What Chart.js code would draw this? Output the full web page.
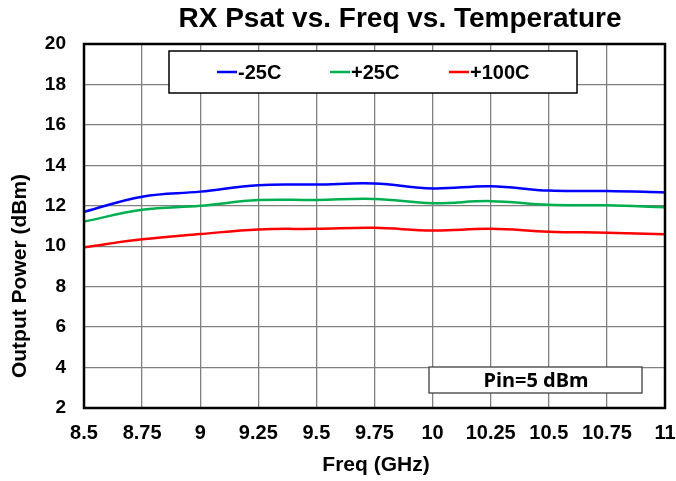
<!DOCTYPE html>
<html>
<head>
<meta charset="utf-8">
<script src="https://cdn.jsdelivr.net/npm/chart.js@4"></script>
<style>
  body { margin: 0; background: #fff; }
  #wrap { width: 676px; height: 481px; }
</style>
</head>
<body>
<div id="wrap"><canvas id="chart" width="676" height="481"></canvas></div>
<script>
// frequency points (GHz)
const freqs = [8.5, 8.75, 9, 9.25, 9.5, 9.75, 10, 10.25, 10.5, 10.75, 11];
// output power (dBm) per temperature
const pM25 = [11.7, 12.45, 12.7, 13.02, 13.05, 13.1, 12.86, 12.97, 12.75, 12.73, 12.66];
const pP25 = [11.22, 11.8, 12.0, 12.28, 12.29, 12.34, 12.13, 12.23, 12.05, 12.02, 11.93];
const pP100 = [9.95, 10.34, 10.6, 10.83, 10.86, 10.91, 10.78, 10.86, 10.72, 10.67, 10.59];
const seriesNames = ["-25C", "+25C", "+100C"];
const xTickLabels = ["8.5", "8.75", "9", "9.25", "9.5", "9.75", "10", "10.25", "10.5", "10.75", "11"];
const yTickLabels = ["2", "4", "6", "8", "10", "12", "14", "16", "18", "20"];

const FONT = "'Liberation Sans', Arial, sans-serif";

const toPoints = (ys) => freqs.map((f, i) => ({ x: f, y: ys[i] }));

// frame, titles, legend and the Pin note
const extras = {
  id: "extras",
  afterDraw(chart) {
    const ctx = chart.ctx;
    const a = chart.chartArea;
    ctx.save();

    // plot frame
    ctx.strokeStyle = "#000";
    ctx.lineWidth = 2.5;
    ctx.strokeRect(a.left, a.top, a.right - a.left, a.bottom - a.top);

    ctx.fillStyle = "#000";
    ctx.textAlign = "center";
    ctx.textBaseline = "middle";

    // chart title
    ctx.font = "bold 28px " + FONT;
    ctx.fillText("RX Psat vs. Freq vs. Temperature", 400, 19);

    // axis titles
    ctx.font = "bold 21px " + FONT;
    ctx.fillText("Freq (GHz)", 376, 465);
    ctx.save();
    ctx.translate(20, 276);
    ctx.rotate(-Math.PI / 2);
    ctx.fillText("Output Power (dBm)", 0, 0);
    ctx.restore();

    // legend box
    ctx.fillStyle = "#fff";
    ctx.fillRect(169, 51, 408, 42);
    ctx.strokeStyle = "#000";
    ctx.lineWidth = 1.5;
    ctx.strokeRect(169, 51, 408, 42);
    const starts = [217, 330, 449];
    ctx.font = "bold 20px " + FONT;
    ctx.textAlign = "left";
    chart.data.datasets.forEach((ds, i) => {
      const x0 = starts[i];
      ctx.strokeStyle = ds.borderColor;
      ctx.lineWidth = 2.5;
      ctx.beginPath();
      ctx.moveTo(x0, 72);
      ctx.lineTo(x0 + 20, 72);
      ctx.stroke();
      ctx.fillStyle = "#000";
      ctx.fillText(ds.label, x0 + 21, 73);
    });

    // Pin note
    ctx.fillStyle = "#fff";
    ctx.fillRect(429, 367, 213, 26);
    ctx.strokeStyle = "#404040";
    ctx.lineWidth = 1.3;
    ctx.strokeRect(429, 367, 213, 26);
    ctx.fillStyle = "#000";
    ctx.textAlign = "center";
    ctx.font = "bold 20px 'Noto Sans', sans-serif";
    ctx.fillText("Pin=5 dBm", 536, 381);

    ctx.restore();
  }
};

new Chart(document.getElementById("chart"), {
  type: "line",
  data: {
    datasets: [
      { label: seriesNames[0], data: toPoints(pM25), borderColor: "#0000ff" },
      { label: seriesNames[1], data: toPoints(pP25), borderColor: "#00b050" },
      { label: seriesNames[2], data: toPoints(pP100), borderColor: "#ff0000" }
    ]
  },
  options: {
    responsive: false,
    animation: false,
    layout: { padding: { top: 44, right: 11, left: 0, bottom: 0 } },
    elements: {
      line: { borderWidth: 2.5, tension: 0.4, fill: false },
      point: { radius: 0 }
    },
    plugins: {
      legend: { display: false },
      title: { display: false },
      tooltip: { enabled: false }
    },
    scales: {
      x: {
        type: "linear",
        min: 8.5,
        max: 11,
        afterFit: (s) => {
          s.height = 73;
          s.paddingLeft = 0;
          s.paddingRight = 0;
        },
        ticks: {
          stepSize: 0.25,
          maxRotation: 0,
          autoSkip: false,
          padding: 13,
          color: "#000",
          font: { family: FONT, size: 20, weight: "bold" },
          callback: (v, i) => xTickLabels[i]
        },
        grid: { color: "#808080", lineWidth: 1.3, drawTicks: false },
        border: { display: false }
      },
      y: {
        min: 2,
        max: 20,
        afterFit: (s) => {
          s.width = 84;
          s.paddingTop = 0;
          s.paddingBottom = 0;
        },
        ticks: {
          stepSize: 2,
          padding: 18,
          color: "#000",
          font: { family: FONT, size: 19, weight: "bold" },
          callback: (v, i) => yTickLabels[i]
        },
        grid: { color: "#808080", lineWidth: 1.3, drawTicks: false },
        border: { display: false }
      }
    }
  },
  plugins: [extras]
});
</script>
</body>
</html>
